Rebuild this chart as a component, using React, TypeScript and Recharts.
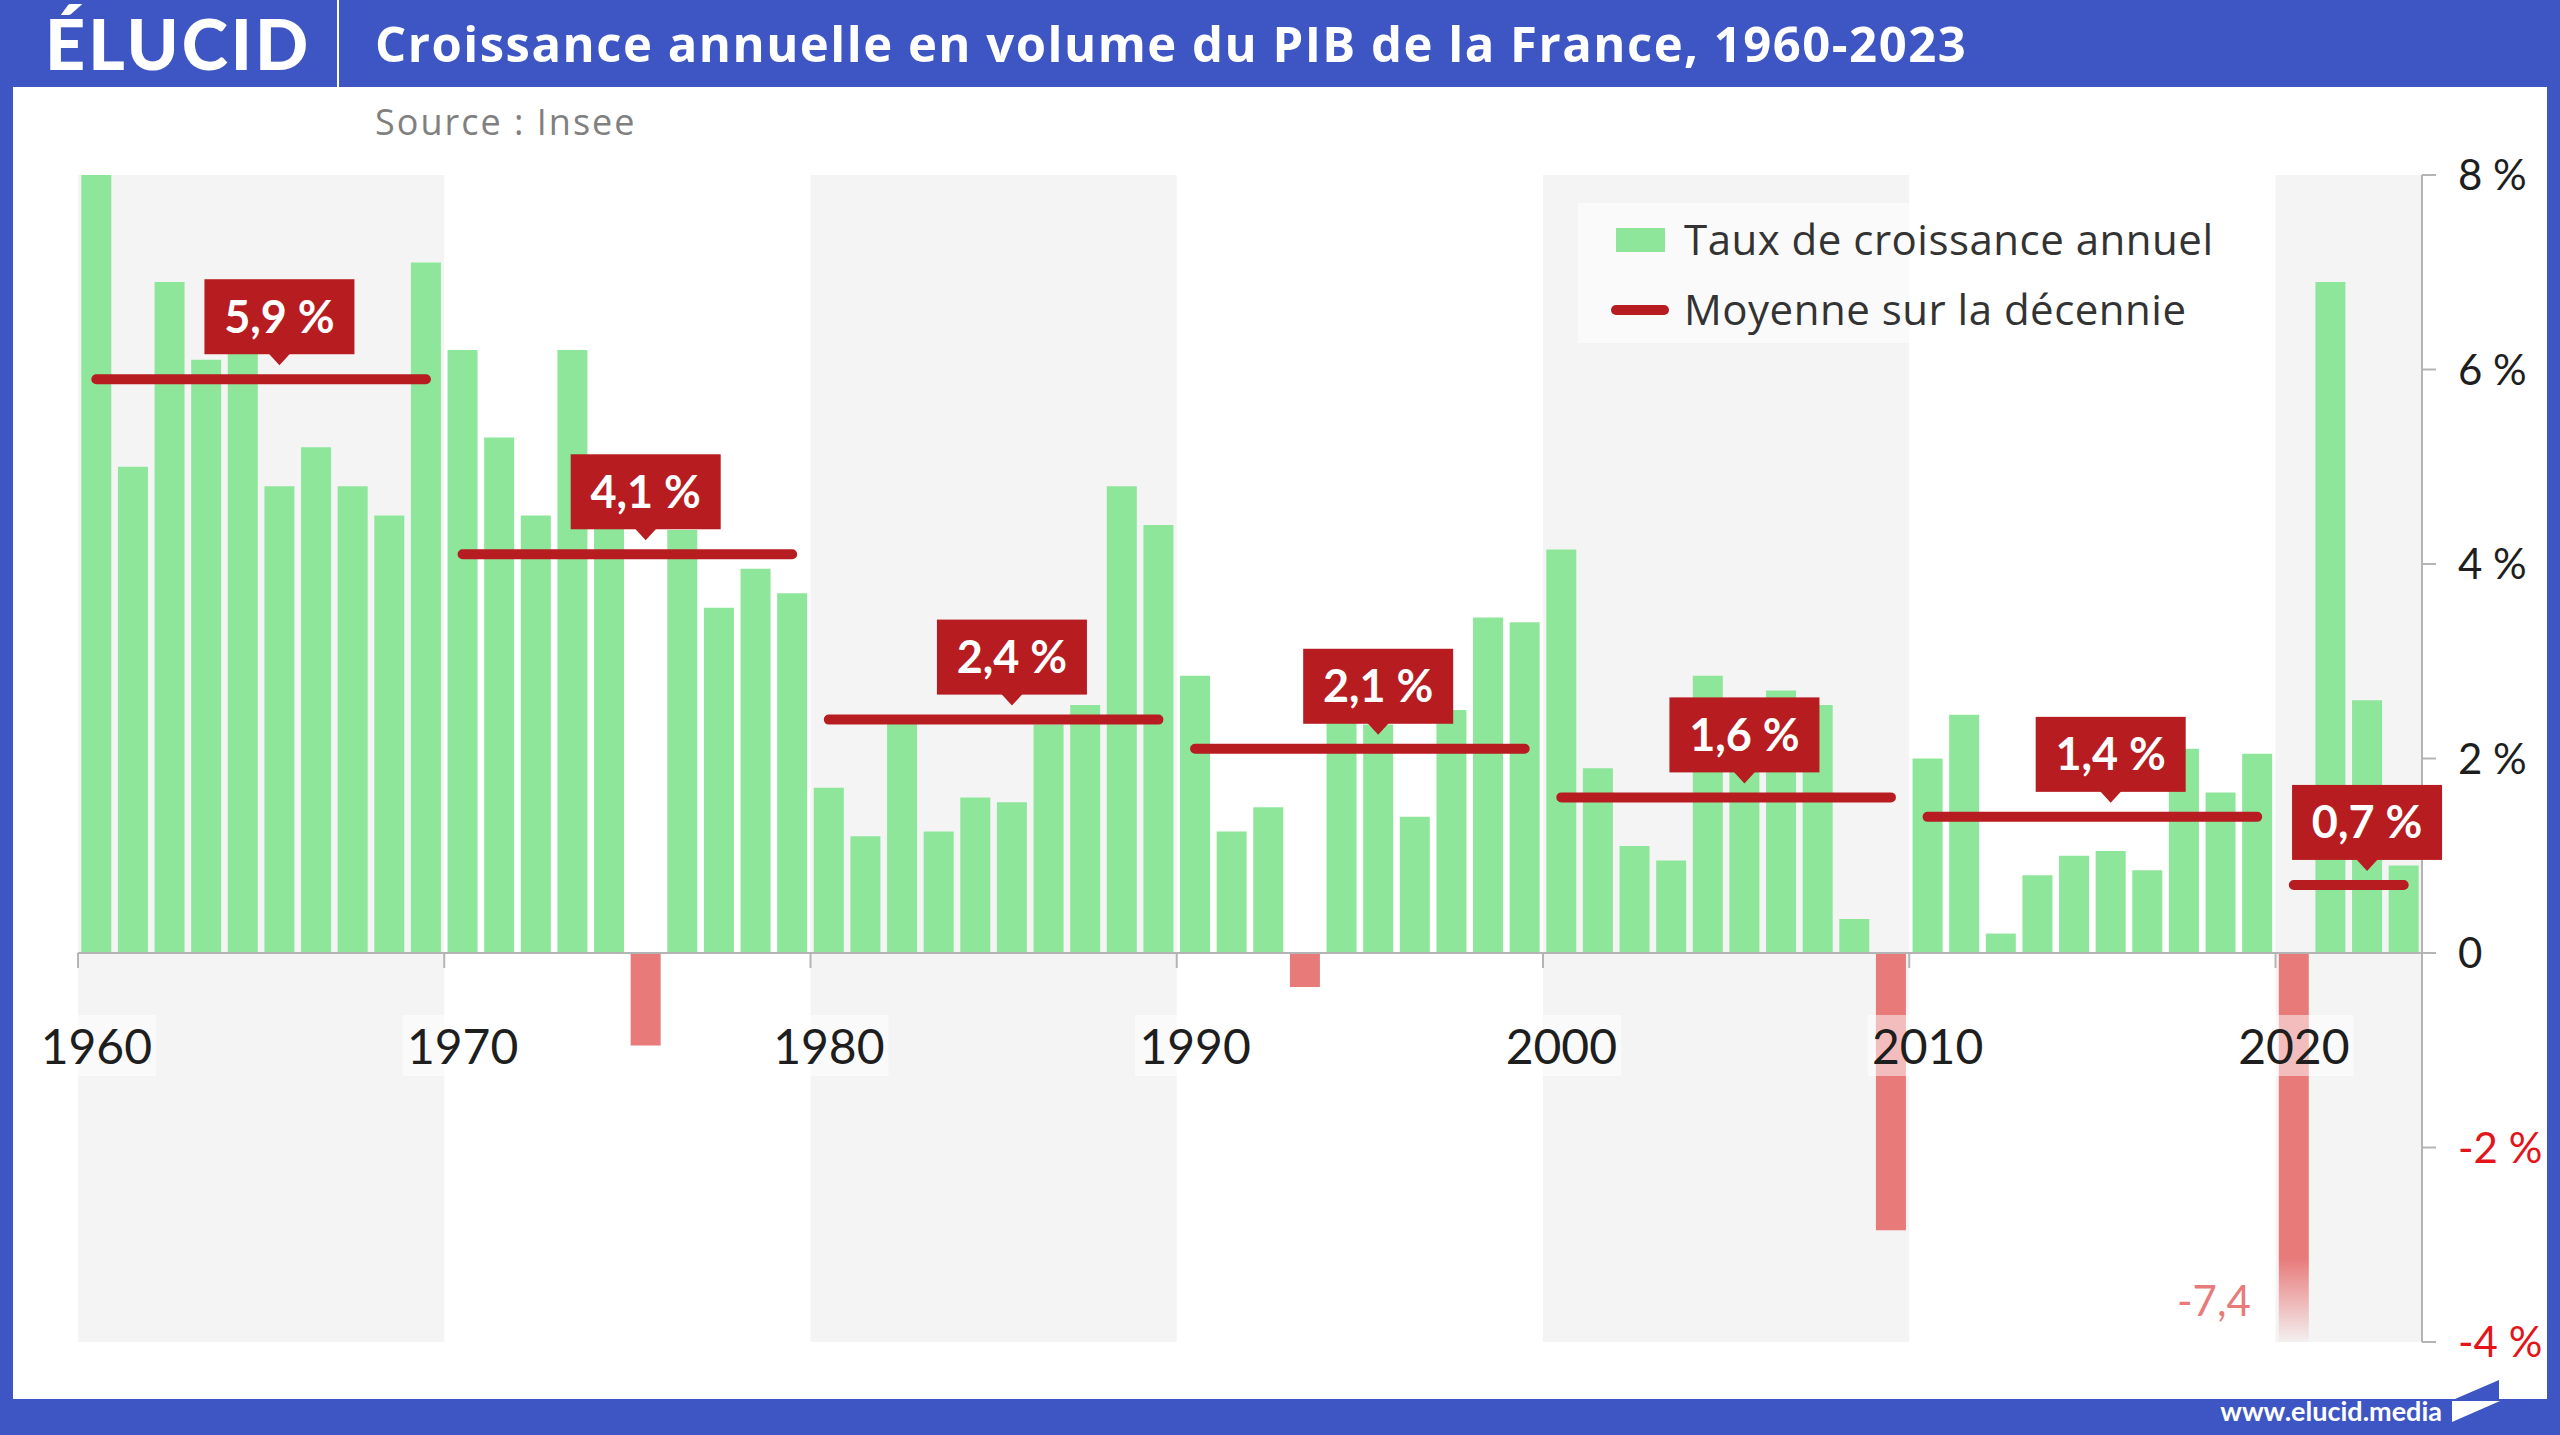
import React from "react";
import {
  ComposedChart,
  Bar,
  Line,
  XAxis,
  YAxis,
  ReferenceArea,
  ReferenceLine,
  Cell,
  LabelList,
} from "recharts";

// --- data (INSEE, croissance annuelle en volume) ---
const years = Array.from({ length: 64 }, (_, i) => 1960 + i);
const growth = [
  8.0, 5.0, 6.9, 6.1, 6.5, 4.8, 5.2, 4.8, 4.5, 7.1,
  6.2, 5.3, 4.5, 6.2, 4.5, -0.95, 4.35, 3.55, 3.95, 3.7,
  1.7, 1.2, 2.4, 1.25, 1.6, 1.55, 2.35, 2.55, 4.8, 4.4,
  2.85, 1.25, 1.5, -0.35, 2.4, 2.35, 1.4, 2.5, 3.45, 3.4,
  4.15, 1.9, 1.1, 0.95, 2.85, 1.9, 2.7, 2.55, 0.35, -2.85,
  2.0, 2.45, 0.2, 0.8, 1.0, 1.05, 0.85, 2.1, 1.65, 2.05,
  -7.4, 6.9, 2.6, 0.9,
];
const decadeStarts = [1960, 1970, 1980, 1990, 2000, 2010, 2020];
const decadeAverages = [5.9, 4.1, 2.4, 2.1, 1.6, 1.4, 0.7];
const decadeLabelYears = [1965, 1975, 1985, 1995, 2005, 2015, 2022];
const shadedDecades = [1960, 1980, 2000, 2020];
const yTicks = [-4, -2, 0, 2, 4, 6, 8];

// --- layout ---
const W = 2560;
const H = 1435;
const PLOT_LEFT = 78;
const PLOT_RIGHT = 2422;
const PLOT_TOP = 175;
const PLOT_BOTTOM = 1342;
const Y_MIN = -4;
const Y_MAX = 8;
const Y_AXIS_W = 120;
const X_AXIS_H = 1;

const BLUE = "#3e56c4";
const GREEN = "#8ee69a";
const SALMON = "#e87a7a";
const DARK_RED = "#b71c20";
const NEG_RED = "#e3151a";
const AXIS = "#b4b4b4";
const BAND = "#f4f4f4";
const FONT = "Lato, 'Open Sans', sans-serif";
const WIDE_FONT = "'Open Sans', Lato, sans-serif";

const decadeIndex = (y: number) => decadeStarts.findIndex((s) => y >= s && y < s + 10);

const data = years.map((year, i) => {
  const d = decadeIndex(year);
  return {
    year,
    growth: growth[i],
    avgA: d % 2 === 0 ? decadeAverages[d] : null,
    avgB: d % 2 === 1 ? decadeAverages[d] : null,
  };
});

const fmt = (v: number) => v.toFixed(1).replace(".", ",");

const zeroY = PLOT_TOP + ((PLOT_BOTTOM - PLOT_TOP) * Y_MAX) / (Y_MAX - Y_MIN);
const bandW = (PLOT_RIGHT - PLOT_LEFT) / years.length;

const XTick = (props: any) => {
  const { x, payload } = props;
  const tw = 120;
  return (
    <g>
      <line
        x1={x - bandW / 2}
        x2={x - bandW / 2}
        y1={zeroY}
        y2={zeroY + 15}
        stroke={AXIS}
        strokeWidth={2}
      />
      <rect x={x - tw / 2} y={zeroY + 62} width={tw} height={61} fill="#fff" fillOpacity={0.5} />
      <text x={x} y={zeroY + 111} textAnchor="middle" fontSize={48} fontFamily={FONT} fill="#1e1e1e">
        {payload.value}
      </text>
    </g>
  );
};

const YTick = (props: any) => {
  const { x, y, payload } = props;
  const v = payload.value;
  return (
    <text x={x} y={y} dy={15} fontSize={42} fontFamily={FONT} fill={v < 0 ? NEG_RED : "#1e1e1e"}>
      {v === 0 ? "0" : `${v} %`}
    </text>
  );
};

const AvgLabel = (props: any) => {
  const { x, y, index, value } = props;
  if (value == null || !decadeLabelYears.includes(data[index].year)) return null;
  const bw = 150;
  const bh = 75;
  const bottom = y - 25;
  return (
    <g>
      <rect x={x - bw / 2} y={bottom - bh} width={bw} height={bh} fill={DARK_RED} />
      <polygon points={`${x - 11},${bottom - 1} ${x + 11},${bottom - 1} ${x},${y - 14}`} fill={DARK_RED} />
      <text
        x={x}
        y={bottom - bh / 2 + 16}
        textAnchor="middle"
        fontSize={45}
        fontWeight={700}
        fontFamily={FONT}
        fill="#fff"
      >
        {`${fmt(value)} %`}
      </text>
    </g>
  );
};

const OverflowLabel = (props: any) => {
  const { x, value } = props;
  if (value >= Y_MIN) return null;
  return (
    <text x={x - 28} y={PLOT_BOTTOM - 26} textAnchor="end" fontSize={42} fontFamily={FONT} fill={SALMON}>
      {fmt(value)}
    </text>
  );
};

export default function App() {
  return (
    <div style={{ position: "relative", width: W, height: H, overflow: "hidden", fontFamily: FONT }}>
      <style>{`body{margin:0}`}</style>

      {/* frame, header, footer */}
      <svg width={W} height={H} style={{ position: "absolute", left: 0, top: 0 }}>
        <rect x={0} y={0} width={W} height={H} fill={BLUE} />
        <rect x={13} y={87} width={2534} height={1312} fill="#fff" />
        <text x={45} y={70} fontSize={70} fontWeight={900} fontFamily={FONT} fill="#fff" letterSpacing={3}>
          ÉLUCID
        </text>
        <line x1={338} x2={338} y1={0} y2={87} stroke="#fff" strokeWidth={2} />
        <text x={375} y={62} fontSize={49} fontWeight={700} fontFamily={WIDE_FONT} fill="#fff" letterSpacing={1.5}>
          Croissance annuelle en volume du PIB de la France, 1960-2023
        </text>
        <text x={375} y={135} fontSize={36} fontFamily={WIDE_FONT} fill="#808080" letterSpacing={2}>
          Source : Insee
        </text>
        <text x={2442} y={1421} textAnchor="end" fontSize={27} fontWeight={700} fontFamily={FONT} fill="#fff">
          www.elucid.media
        </text>
        <polygon points="2455,1399 2499,1380 2499,1399" fill={BLUE} />
        <polygon points="2452,1401 2500,1401 2452,1422" fill="#fff" />
      </svg>

      <div style={{ position: "absolute", left: 0, top: 0 }}>
        <ComposedChart
          width={W}
          height={H}
          data={data}
          margin={{ top: PLOT_TOP, right: W - PLOT_RIGHT - Y_AXIS_W, bottom: H - PLOT_BOTTOM - X_AXIS_H, left: PLOT_LEFT }}
          barCategoryGap="9%"
        >
          <defs>
            <linearGradient id="fadeNeg" x1="0" y1="0" x2="0" y2="1">
              <stop offset="0" stopColor={SALMON} stopOpacity={1} />
              <stop offset="0.424" stopColor={SALMON} stopOpacity={1} />
              <stop offset="0.545" stopColor={SALMON} stopOpacity={0} />
              <stop offset="1" stopColor={SALMON} stopOpacity={0} />
            </linearGradient>
          </defs>
          {shadedDecades.map((start) => (
            <ReferenceArea
              key={start}
              x1={start}
              x2={Math.min(start + 9, years[years.length - 1])}
              y1={Y_MIN}
              y2={Y_MAX}
              fill={BAND}
              fillOpacity={1}
              stroke="none"
            />
          ))}
          <Bar dataKey="growth" isAnimationActive={false}>
            {data.map((d) => (
              <Cell
                key={d.year}
                fill={d.growth < Y_MIN ? "url(#fadeNeg)" : d.growth < 0 ? SALMON : GREEN}
              />
            ))}
            <LabelList dataKey="growth" content={OverflowLabel} />
          </Bar>
          <ReferenceLine y={0} stroke={AXIS} strokeWidth={2} />
          <XAxis
            dataKey="year"
            interval={9}
            height={X_AXIS_H}
            axisLine={false}
            tickLine={false}
            tick={XTick}
          />
          <YAxis
            orientation="right"
            domain={[Y_MIN, Y_MAX]}
            ticks={yTicks}
            interval={0}
            allowDataOverflow
            width={Y_AXIS_W}
            axisLine={{ stroke: AXIS, strokeWidth: 2 }}
            tickLine={{ stroke: AXIS, strokeWidth: 2 }}
            tickSize={14}
            tickMargin={22}
            tick={YTick}
          />
          {["avgA", "avgB"].map((k) => (
            <Line
              key={k}
              dataKey={k}
              stroke={DARK_RED}
              strokeWidth={10}
              strokeLinecap="round"
              dot={false}
              activeDot={false}
              connectNulls={false}
              isAnimationActive={false}
            >
              <LabelList dataKey={k} content={AvgLabel} />
            </Line>
          ))}
        </ComposedChart>
      </div>

      {/* legend */}
      <svg width={W} height={H} style={{ position: "absolute", left: 0, top: 0, pointerEvents: "none" }}>
        <rect x={1578} y={203} width={659} height={140} fill="#fff" fillOpacity={0.5} />
        <rect x={1616} y={228} width={49} height={24} fill={GREEN} />
        <text x={1684} y={255} fontSize={42} fontFamily={WIDE_FONT} fill="#333" letterSpacing={0.5}>
          Taux de croissance annuel
        </text>
        <line x1={1616} x2={1664} y1={310} y2={310} stroke={DARK_RED} strokeWidth={10} strokeLinecap="round" />
        <text x={1684} y={325} fontSize={42} fontFamily={WIDE_FONT} fill="#333" letterSpacing={0.5}>
          Moyenne sur la décennie
        </text>
      </svg>
    </div>
  );
}
